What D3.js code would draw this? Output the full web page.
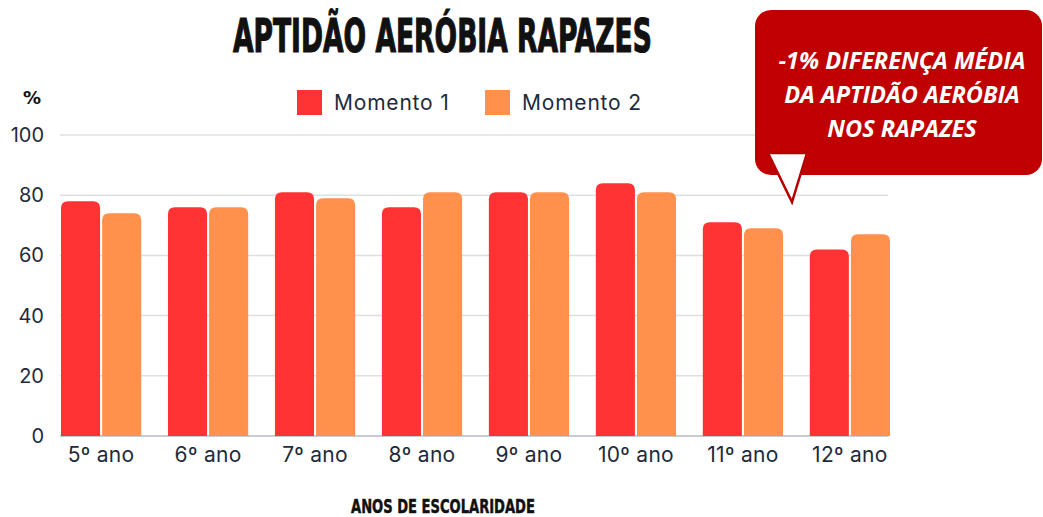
<!DOCTYPE html>
<html><head><meta charset="utf-8">
<script src="https://cdn.jsdelivr.net/npm/d3@7"></script>
<style>body{margin:0;background:#fff;}svg{display:block;}</style>
</head><body>
<svg id="c" width="1043" height="517"></svg>
<script>
const categories = ["5º ano","6º ano","7º ano","8º ano","9º ano","10º ano","11º ano","12º ano"];
const seriesNames = ["Momento 1","Momento 2"];
const momento1 = [78,76,81,76,81,84,71,62];
const momento2 = [74,76,79,81,81,81,69,67];
const yTicks = [0,20,40,60,80,100];
const colors = ["#ff3333","#ff914d"];

const svg = d3.select("#c");
const x0 = d3.scaleBand().domain(categories).range([61,890]).paddingInner(0.25).paddingOuter(0);
const x1 = d3.scaleBand().domain(seriesNames).range([0,x0.bandwidth()]).paddingInner(0.05);
const y = d3.scaleLinear().domain([0,100]).range([436,135]);

// gridlines
svg.append("g").selectAll("line").data(yTicks).join("line")
  .attr("x1",60).attr("x2",888).attr("y1",d=>y(d)).attr("y2",d=>y(d))
  .attr("stroke",d=>d===0?"#c8cbd0":"#dedfe2").attr("stroke-width",d=>d===0?2:1.5);

// y axis labels
const yAxis = d3.axisLeft(y).tickValues(yTicks).tickSize(0).tickPadding(0);
const ya = svg.append("g").attr("transform","translate(44,0)").call(yAxis);
ya.select(".domain").remove();
ya.selectAll("text").attr("font-family","Inter, 'Noto Sans', sans-serif").attr("font-size",20).attr("fill","#1e2b3c");

// x axis labels
const xAxis = d3.axisBottom(x0).tickSize(0).tickPadding(0);
const xa = svg.append("g").attr("transform","translate(0,447)").call(xAxis);
xa.select(".domain").remove();
xa.selectAll("text").attr("font-family","Inter, 'Noto Sans', sans-serif").attr("font-size",21).attr("fill","#1e2b3c").attr("letter-spacing",0.3);

// bars with rounded top
function barPath(x, yTop, w, yBot, r){
  r = Math.min(r, (yBot-yTop), w/2);
  return `M${x},${yBot}V${yTop+r}Q${x},${yTop} ${x+r},${yTop}H${x+w-r}Q${x+w},${yTop} ${x+w},${yTop+r}V${yBot}Z`;
}
const data = categories.map((c,i)=>({c, vals:[momento1[i],momento2[i]]}));
const groups = svg.append("g").selectAll("g").data(data).join("g")
  .attr("transform",d=>`translate(${x0(d.c)},0)`);
groups.selectAll("path").data(d=>d.vals.map((v,j)=>({v,s:seriesNames[j],j}))).join("path")
  .attr("d",d=>barPath(x1(d.s), y(d.v), x1.bandwidth(), y(0), 7))
  .attr("fill",d=>colors[d.j]);

// legend
const leg = svg.append("g");
const legX = [297,485];
seriesNames.forEach((s,i)=>{
  leg.append("rect").attr("x",legX[i]).attr("y",90).attr("width",25).attr("height",25).attr("fill",colors[i]);
  leg.append("text").attr("x",legX[i]+37).attr("y",110).text(s)
    .attr("font-family","Inter, 'Noto Sans', sans-serif").attr("font-size",21).attr("letter-spacing",0.8).attr("fill","#1e2b3c");
});

// % label
svg.append("text").attr("x",32).attr("y",104).attr("text-anchor","middle").text("%")
  .attr("font-family","'DejaVu Sans', sans-serif").attr("font-weight","bold").attr("font-size",18).attr("fill","#111");

// condensed text helper: scale horizontally to a target width
function condensed(txt, x, yb, size, targetW, sw){
  const t = svg.append("text").attr("x",0).attr("y",0).text(txt)
    .attr("font-family","'Liberation Sans Narrow','DejaVu Sans Condensed',sans-serif")
    .attr("font-weight","bold").attr("font-size",size).attr("fill","#111")
    .attr("stroke","#111").attr("stroke-width",sw);
  const w = t.node().getComputedTextLength();
  t.attr("transform",`translate(${x},${yb}) scale(${targetW/w},1)`);
  return t;
}
condensed("APTIDÃO AERÓBIA RAPAZES", 233, 52, 47, 419, 1.2);
condensed("ANOS DE ESCOLARIDADE", 351, 513, 20, 184, 0.5);

// callout
const co = svg.append("g");
co.append("rect").attr("x",755).attr("y",10).attr("width",287).attr("height",165).attr("rx",16).attr("fill","#c00000");
co.append("path").attr("d","M768,153L807,153L792,202Z").attr("fill","#fff").attr("stroke","#b50000").attr("stroke-width",2.5).attr("stroke-linejoin","miter");
const lines = ["-1% DIFERENÇA MÉDIA","DA APTIDÃO AERÓBIA","NOS RAPAZES"];
const ct = co.append("text").attr("text-anchor","middle")
  .attr("font-family","'Open Sans', sans-serif").attr("font-weight","bold").attr("font-style","italic")
  .attr("font-size",23.5).attr("fill","#fff");
ct.selectAll("tspan").data(lines).join("tspan")
  .attr("x",902).attr("y",(d,i)=>69+i*34).text(d=>d);
</script>
</body></html>
